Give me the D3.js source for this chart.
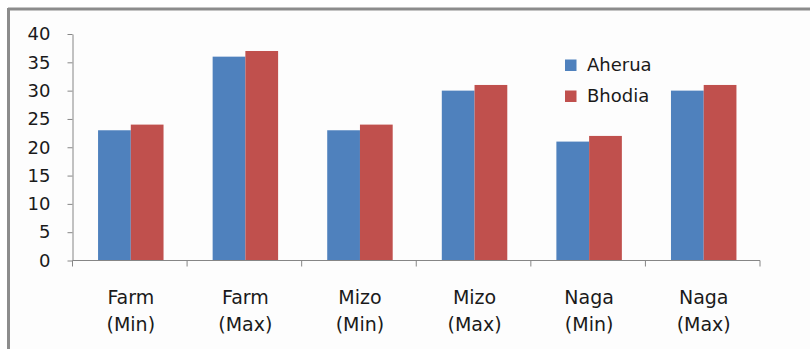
<!DOCTYPE html>
<html>
<head>
<meta charset="utf-8">
<script src="https://cdn.jsdelivr.net/npm/d3@7"></script>
<style>
  html, body { margin: 0; padding: 0; background: #ffffff; }
  svg { display: block; }
</style>
</head>
<body>
<svg id="chart" width="810" height="349"></svg>
<script>
// Category labels (two lines each), series and their values
const categories = [["Farm", "(Min)"], ["Farm", "(Max)"], ["Mizo", "(Min)"], ["Mizo", "(Max)"], ["Naga", "(Min)"], ["Naga", "(Max)"]];
const seriesNames = ["Aherua", "Bhodia"];
const aherua = [23, 36, 23, 30, 21, 30];
const bhodia = [24, 37, 24, 31, 22, 31];
const yTicks = [0, 5, 10, 15, 20, 25, 30, 35, 40];
const colors = ["#4F81BD", "#C0504D"];

const svg = d3.select("#chart");
const W = 810, H = 349;
const plot = { left: 72.5, right: 760, top: 34, bottom: 260.5 };
const font = "'DejaVu Sans', sans-serif";

// Chart frame: off-white panel with a grey top and left edge
svg.append("rect").attr("x", 0).attr("y", 0).attr("width", W).attr("height", H).attr("fill", "#ffffff");
svg.append("rect").attr("x", 9).attr("y", 9).attr("width", W - 9).attr("height", H - 9).attr("fill", "#fdfdfd");
svg.append("line").attr("x1", 8).attr("x2", W).attr("y1", 9).attr("y2", 9).attr("stroke", "#8c8c8c").attr("stroke-width", 3);
svg.append("line").attr("x1", 8.5).attr("x2", 8.5).attr("y1", 8).attr("y2", H).attr("stroke", "#8c8c8c").attr("stroke-width", 3);

const x0 = d3.scaleBand().domain(d3.range(categories.length)).range([plot.left, plot.right]).paddingInner(0).paddingOuter(0);
const bandW = x0.bandwidth();
// Excel-style gap: bar width = band / (2 + 1.5)
const barW = bandW / 3.5;
const x1 = d3.scaleBand().domain(seriesNames).range([0, barW * 2]);
const y = d3.scaleLinear().domain([0, 40]).range([plot.bottom, plot.top]);

const data = categories.map((c, i) => ({ i, values: [aherua[i], bhodia[i]] }));

const groups = svg.append("g").selectAll("g").data(data).join("g")
  .attr("transform", d => `translate(${x0(d.i) + (bandW - barW * 2) / 2 + 1},0)`);
groups.selectAll("rect").data(d => d.values.map((v, k) => ({ v, k })))
  .join("rect")
  .attr("x", d => x1(seriesNames[d.k]))
  .attr("width", x1.bandwidth())
  .attr("y", d => y(d.v))
  .attr("height", d => y(0) - y(d.v))
  .attr("fill", d => colors[d.k]);

// Y axis
const yAxis = d3.axisLeft(y).tickValues(yTicks).tickSize(5).tickPadding(17).tickSizeOuter(0);
const gy = svg.append("g").attr("transform", `translate(${plot.left},0)`).call(yAxis);
gy.select(".domain").attr("stroke", "#868686");
gy.selectAll(".tick line").attr("stroke", "#868686");
gy.selectAll(".tick text").attr("fill", "#1a1a1a").style("font-family", font).style("font-size", "18px");

// X axis with ticks at category boundaries
const boundaries = d3.range(categories.length + 1).map(i => plot.left + i * bandW);
svg.append("line").attr("x1", plot.left).attr("x2", plot.right).attr("y1", plot.bottom).attr("y2", plot.bottom).attr("stroke", "#868686");
svg.append("g").selectAll("line").data(boundaries).join("line")
  .attr("x1", d => d).attr("x2", d => d)
  .attr("y1", plot.bottom).attr("y2", plot.bottom + 6)
  .attr("stroke", "#868686");

// Category labels
const labels = svg.append("g").selectAll("text").data(categories).join("text")
  .attr("text-anchor", "middle")
  .attr("fill", "#1a1a1a")
  .style("font-family", font)
  .style("font-size", "19px");
labels.each(function (d, i) {
  const t = d3.select(this);
  const cx = x0(i) + bandW / 2 + 1;
  t.append("tspan").attr("x", cx).attr("y", 304).text(d[0]);
  t.append("tspan").attr("x", cx).attr("y", 331).text(d[1]);
});

// Legend
const legend = svg.append("g").selectAll("g").data(seriesNames).join("g")
  .attr("transform", (d, i) => `translate(565,${59.5 + i * 31})`);
legend.append("rect").attr("width", 11.5).attr("height", 11.5).attr("fill", (d, i) => colors[i]);
legend.append("text").attr("x", 22).attr("y", 11).text(d => d)
  .attr("fill", "#1a1a1a")
  .style("font-family", font)
  .style("font-size", "18px");
</script>
</body>
</html>
